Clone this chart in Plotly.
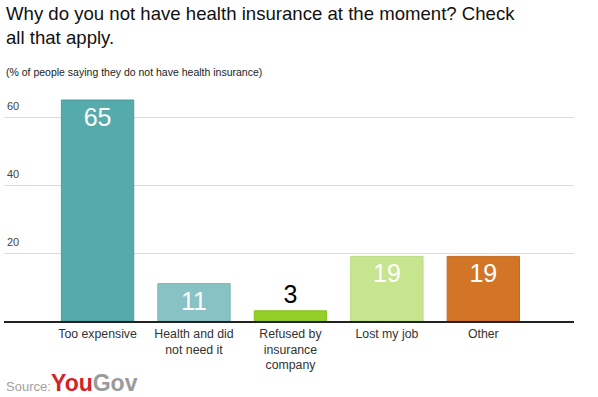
import plotly.graph_objects as go

categories = ["Too expensive", "Health and did not need it", "Refused by insurance company", "Lost my job", "Other"]
tick_text = ["Too expensive", "Health and did<br>not need it", "Refused by<br>insurance<br>company", "Lost my job", "Other"]
values = [65, 11, 3, 19, 19]
colors = ["#55aaac", "#89c2c4", "#93cf27", "#c6e58e", "#d37527"]
borders = ["#4b9c9e", "#7fb4b6", "#86c020", "#b9d983", "#c56a20"]
text_pos = ["inside", "inside", "outside", "inside", "inside"]
text_col = ["white", "white", "black", "white", "white"]
y_ticks = [20, 40, 60]

T, H = 83, 238  # plot top and height in pixels


def py(pix):
    return (T + H - pix) / H


def px(pix):
    return (pix - 4) / 570.0


fig = go.Figure(go.Bar(
    x=list(range(len(categories))),
    y=values,
    width=0.75,
    marker=dict(color=colors, line=dict(color=borders, width=1)),
    text=[str(v) for v in values],
    textposition=text_pos,
    insidetextanchor="end",
    textfont=dict(size=25, color=text_col, family="Liberation Sans, Arial"),
    cliponaxis=False,
    hoverinfo="skip",
))

annotations = [
    dict(text="Why do you not have health insurance at the moment? Check<br>all that apply.",
         xref="paper", yref="paper", x=px(4), y=py(1),
         xanchor="left", yanchor="top", align="left", showarrow=False,
         font=dict(size=18.6, color="#111", family="Liberation Sans, Arial")),
    dict(text="(% of people saying they do not have health insurance)",
         xref="paper", yref="paper", x=px(4), y=py(64),
         xanchor="left", yanchor="top", showarrow=False,
         font=dict(size=10.5, color="#222")),
    dict(text="Source:", xref="paper", yref="paper",
         x=px(4), y=py(377), xanchor="left", yanchor="top",
         showarrow=False, font=dict(size=13, color="#a0a0a0")),
    dict(text="<b><span style='color:#d2232a'>You</span><span style='color:#9a9a9a'>Gov</span></b>",
         xref="paper", yref="paper",
         x=px(49), y=py(368), xanchor="left", yanchor="top",
         showarrow=False, font=dict(size=23, color="#9a9a9a", family="Liberation Sans, Arial")),
]
for t in y_ticks:
    annotations.append(dict(text=str(t), xref="paper", yref="y", x=px(5), y=t,
                            xanchor="left", yanchor="bottom", yshift=3, showarrow=False,
                            font=dict(size=11, color="#444")))

fig.update_layout(
    width=598, height=397,
    margin=dict(l=4, r=24, t=T, b=397 - T - H),
    paper_bgcolor="white", plot_bgcolor="white",
    font=dict(family="Liberation Sans, Arial", color="#333"),
    showlegend=False,
    xaxis=dict(
        range=[-0.97, 4.94],
        tickvals=list(range(len(categories))),
        ticktext=tick_text,
        tickfont=dict(size=12.3, color="#333"),
        showgrid=False, zeroline=False,
        showline=True, linecolor="#222", linewidth=1.5,
        ticks="", fixedrange=True,
    ),
    yaxis=dict(
        range=[0, 70],
        tickvals=y_ticks,
        showticklabels=False,
        showgrid=True, gridcolor="#dcdcdc", gridwidth=1,
        zeroline=False, showline=False, ticks="", fixedrange=True,
    ),
    annotations=annotations,
)

fig.write_html("out.html", config={"displayModeBar": False},
               post_script="document.body.style.margin='0';document.body.style.padding='0';")
